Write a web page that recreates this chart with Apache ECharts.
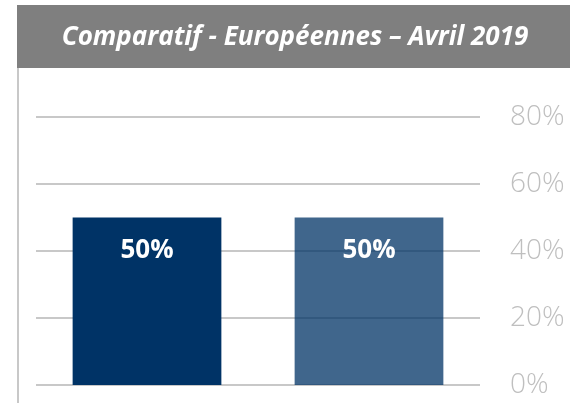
<!DOCTYPE html>
<html><head><meta charset="utf-8">
<script src="https://cdn.jsdelivr.net/npm/echarts@6/dist/echarts.min.js"></script>
<style>html,body{margin:0;padding:0;background:#fff}#c{width:570px;height:403px}</style>
</head><body><div id="c"></div>
<script>
var titleText = "Comparatif - Européennes – Avril 2019";
var categories = ["A", "B"];
var values = [50, 50];
var yTicks = [0, 20, 40, 60, 80];

var chart = echarts.init(document.getElementById('c'), null, {renderer: 'canvas'});
chart.setOption({
  animation: false,
  graphic: [
    {type: 'rect', shape: {x: 17, y: 5, width: 553, height: 63}, style: {fill: '#7f7f7f'}, z: 0},
    {type: 'line', shape: {x1: 18, y1: 68, x2: 18, y2: 403}, style: {stroke: '#c8c8c8', lineWidth: 2}},
    {type: 'text', x: 295, y: 38, z: 10, style: {text: titleText, fill: '#ffffff', font: 'italic bold 26px "Open Sans"', textAlign: 'center', textVerticalAlign: 'middle'}}
  ],
  grid: {left: 36, right: 90, top: 117, bottom: 18},
  xAxis: {
    type: 'category', data: categories,
    axisLine: {show: false}, axisTick: {show: false}, axisLabel: {show: false}
  },
  yAxis: {
    type: 'value', position: 'right', min: 0, max: 80, interval: 20,
    axisLine: {show: false}, axisTick: {show: false},
    splitLine: {lineStyle: {color: '#c8c8c8', width: 2}},
    axisLabel: {
      margin: 30, align: 'left', color: '#bfbfbf', fontSize: 28, fontFamily: 'Open Sans', fontWeight: 300,
      formatter: function (v) { return yTicks.indexOf(v) >= 0 ? v + '%' : ''; }
    }
  },
  series: [{
    type: 'bar', barWidth: '67%',
    data: [
      {value: values[0], itemStyle: {color: '#003366'}},
      {value: values[1], itemStyle: {color: 'rgba(0,51,102,0.75)'}}
    ],
    label: {
      show: true, position: ['50%', 33], align: 'center', verticalAlign: 'middle',
      color: '#ffffff', fontSize: 26, fontWeight: 'bold', fontFamily: 'Open Sans',
      formatter: function (p) { return p.value + '%'; }
    }
  }]
});
</script></body></html>
